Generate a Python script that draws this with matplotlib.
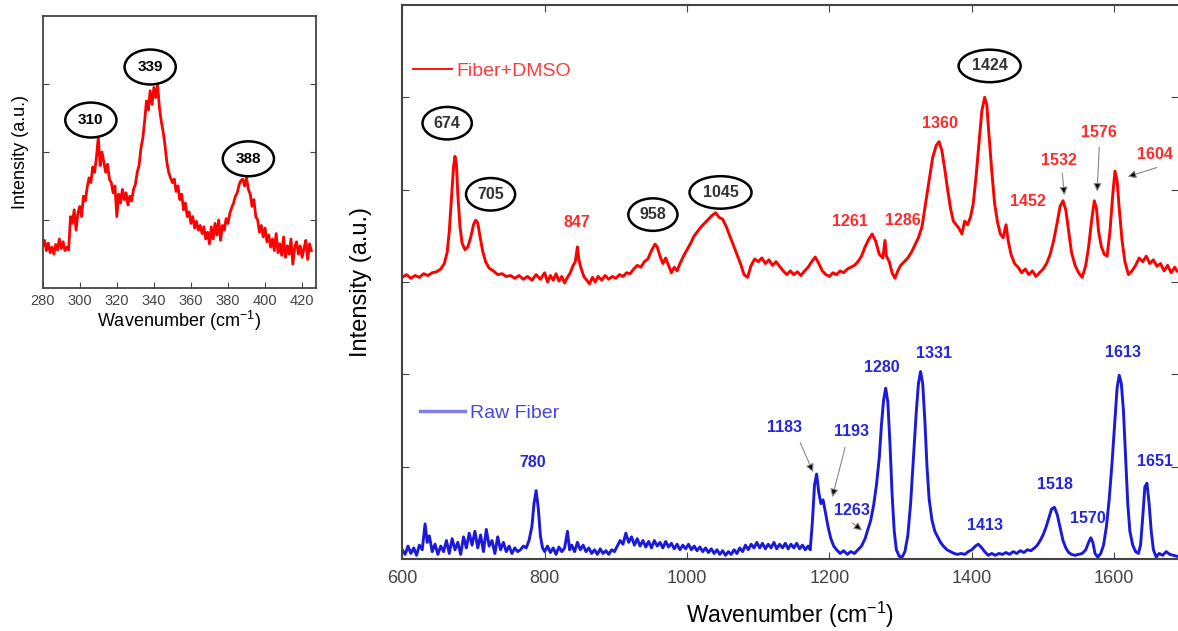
import numpy as np
import matplotlib
matplotlib.use("Agg")
import matplotlib.pyplot as plt
from matplotlib.lines import Line2D

plt.rcParams["font.family"] = ["Liberation Sans", "DejaVu Sans"]
plt.rcParams["mathtext.fontset"] = "custom"
plt.rcParams["mathtext.rm"] = "Liberation Sans"

# ---- inset: low wavenumber region of Fiber+DMSO (1 cm-1 sampling) ----
inset_start = 280
inset_int = [
    0.62, 0.70, 0.55, 0.66, 0.52, 0.60, 0.50, 0.64, 0.56, 0.72,
    0.58, 0.68, 0.55, 0.60, 0.56, 1.05, 0.95, 1.15, 0.85, 1.10,
    1.20, 1.05, 1.35, 1.28, 1.48, 1.62, 1.55, 1.78, 1.70, 1.92,
    2.22, 1.80, 2.00, 1.85, 1.70, 1.82, 1.60, 1.55, 1.40, 1.50,
    1.05, 1.38, 1.25, 1.45, 1.30, 1.40, 1.22, 1.35, 1.28, 1.45,
    1.52, 1.70, 1.80, 2.05, 2.20, 2.45, 2.75, 2.62, 2.90, 2.70,
    2.95, 2.80, 3.00, 2.65, 2.45, 2.30, 2.10, 1.85, 1.70, 1.62,
    1.55, 1.60, 1.42, 1.50, 1.30, 1.38, 1.15, 1.25, 1.05, 1.12,
    0.95, 1.05, 0.88, 0.98, 0.85, 0.92, 0.80, 0.90, 0.72, 0.82,
    0.65, 0.90, 0.72, 0.95, 0.78, 1.00, 0.70, 0.92, 0.85, 1.02,
    0.95, 1.10, 1.18, 1.25, 1.35, 1.40, 1.52, 1.58, 1.60, 1.50,
    1.62, 1.45, 1.38, 1.20, 1.30, 1.05, 1.00, 0.82, 0.92, 0.75,
    0.88, 0.68, 0.78, 0.60, 0.72, 0.55, 0.80, 0.52, 0.65, 0.48,
    0.75, 0.45, 0.62, 0.50, 0.72, 0.35, 0.60, 0.68, 0.50, 0.62,
    0.45, 0.58, 0.70, 0.42, 0.65, 0.55,
]
inset_wn = inset_start + np.arange(len(inset_int))
inset_labels = ["310", "339", "388"]
inset_label_x = [306, 338, 391]
inset_label_y = [2.47, 3.25, 1.90]

# ---- main panel: Fiber+DMSO ----
dmso_wn = [
    600, 606, 612, 618, 624, 630, 636, 642, 648, 654, 659, 663, 666, 669, 672,
    674, 676, 678, 681, 684, 688, 692, 696, 700, 703, 706, 709, 713, 717, 722,
    728, 734, 740, 746, 752, 758, 764, 770, 776, 782, 788, 794, 800, 804, 808,
    812, 816, 820, 824, 828, 832, 836, 840, 843, 846, 848, 851, 855, 859, 863,
    867, 871, 875, 880, 885, 890, 895, 900, 905, 910, 915, 920, 925, 930, 935,
    940, 945, 950, 955, 958, 962, 966, 970, 974, 978, 982, 986, 990, 995, 1000,
    1005, 1010, 1015, 1020, 1025, 1030, 1035, 1040, 1045, 1050, 1055, 1060,
    1065, 1070, 1075, 1080, 1085, 1090, 1095, 1100, 1105, 1110, 1115, 1120,
    1125, 1130, 1135, 1140, 1145, 1150, 1155, 1160, 1165, 1170, 1175, 1180,
    1185, 1190, 1195, 1200, 1205, 1210, 1215, 1220, 1225, 1230, 1235, 1240,
    1245, 1250, 1255, 1260, 1265, 1270, 1275, 1278, 1280, 1284, 1288, 1292,
    1296, 1300, 1305, 1310, 1315, 1320, 1325, 1330, 1335, 1340, 1345, 1350,
    1354, 1358, 1362, 1366, 1370, 1374, 1378, 1382, 1386, 1390, 1394, 1398,
    1402, 1406, 1410, 1414, 1418, 1421, 1424, 1428, 1432, 1436, 1440, 1444,
    1448, 1451, 1455, 1460, 1465, 1470, 1475, 1480, 1485, 1490, 1495, 1500,
    1505, 1510, 1515, 1520, 1524, 1528, 1532, 1536, 1540, 1545, 1550, 1555,
    1560, 1564, 1568, 1572, 1575, 1578, 1582, 1586, 1590, 1594, 1598, 1601,
    1604, 1607, 1611, 1615, 1620, 1625, 1630, 1635, 1640, 1645, 1650, 1655,
    1660, 1665, 1670, 1675, 1680, 1685, 1688,
]
dmso_int = [
    3.05, 3.08, 3.04, 3.07, 3.05, 3.09, 3.07, 3.10, 3.11, 3.14, 3.20, 3.32, 3.55, 3.90, 4.25,
    4.36, 4.28, 3.95, 3.60, 3.42, 3.35, 3.38, 3.48, 3.62, 3.67, 3.64, 3.50, 3.33, 3.22, 3.15,
    3.12, 3.08, 3.09, 3.06, 3.07, 3.04, 3.07, 3.03, 3.06, 3.02, 3.08, 3.03, 3.10, 3.00, 3.07,
    3.02, 3.09, 3.01, 3.06, 2.99, 3.05, 3.10, 3.18, 3.22, 3.38, 3.24, 3.15, 3.06, 3.02, 2.98,
    3.05, 3.00, 3.06, 3.02, 3.07, 3.03, 3.06, 3.04, 3.08, 3.06, 3.10, 3.09, 3.14, 3.18, 3.16,
    3.22, 3.25, 3.34, 3.41, 3.38, 3.28, 3.20, 3.26, 3.18, 3.10, 3.16, 3.12, 3.20, 3.28, 3.35,
    3.42, 3.50, 3.55, 3.60, 3.64, 3.68, 3.72, 3.75, 3.70, 3.68, 3.60, 3.50,
    3.40, 3.30, 3.20, 3.08, 3.05, 3.18, 3.25, 3.22, 3.26, 3.20, 3.24, 3.18,
    3.22, 3.17, 3.12, 3.08, 3.12, 3.08, 3.11, 3.07, 3.12, 3.16, 3.22, 3.27,
    3.20, 3.12, 3.08, 3.06, 3.10, 3.08, 3.12, 3.10, 3.14, 3.16, 3.18, 3.22,
    3.28, 3.38, 3.46, 3.52, 3.44, 3.30, 3.26, 3.45, 3.28, 3.22, 3.10, 3.04,
    3.12, 3.18, 3.22, 3.26, 3.32, 3.40, 3.48, 3.60, 3.85, 4.10, 4.35, 4.48,
    4.52, 4.42, 4.22, 4.00, 3.80, 3.66, 3.62, 3.58, 3.52, 3.66, 3.62, 3.70,
    3.85, 4.15, 4.50, 4.85, 5.00, 4.92, 4.60, 4.20, 3.85, 3.65, 3.52, 3.48,
    3.62, 3.45, 3.30, 3.20, 3.16, 3.10, 3.14, 3.08, 3.12, 3.06, 3.10, 3.14,
    3.20, 3.30, 3.45, 3.65, 3.82, 3.88, 3.78, 3.55, 3.32, 3.18, 3.10, 3.05,
    3.18, 3.38, 3.65, 3.88, 3.80, 3.55, 3.38, 3.30, 3.28, 3.55, 3.95, 4.20,
    4.10, 3.80, 3.45, 3.22, 3.08, 3.12, 3.18, 3.26, 3.22, 3.28, 3.20, 3.24,
    3.17, 3.20, 3.12, 3.18, 3.10, 3.16, 3.12,
]

# ---- main panel: Raw Fiber ----
raw_wn = [
    600, 604, 608, 612, 616, 620, 624, 628, 632, 635, 638, 642, 646, 650, 654,
    658, 662, 666, 670, 674, 678, 682, 686, 690, 694, 698, 702, 706, 710, 714,
    718, 722, 726, 730, 734, 738, 742, 746, 750, 754, 758, 762, 766, 770, 774,
    778, 782, 785, 788, 791, 794, 797, 800, 804, 808, 812, 816, 820, 824, 828,
    832, 835, 838, 842, 846, 850, 854, 858, 862, 866, 870, 874, 878, 882, 886,
    890, 894, 898, 902, 906, 910, 914, 918, 922, 926, 930, 934, 938, 942, 946,
    950, 954, 958, 962, 966, 970, 974, 978, 982, 986, 990, 994, 998, 1002,
    1006, 1010, 1014, 1018, 1022, 1026, 1030, 1034, 1038, 1042, 1046, 1050,
    1054, 1058, 1062, 1066, 1070, 1074, 1078, 1082, 1086, 1090, 1094, 1098,
    1102, 1106, 1110, 1114, 1118, 1122, 1126, 1130, 1134, 1138, 1142, 1146,
    1150, 1154, 1158, 1162, 1166, 1170, 1173, 1176, 1179, 1182, 1185, 1188,
    1191, 1194, 1198, 1202, 1206, 1210, 1215, 1220, 1225, 1230, 1235, 1240,
    1245, 1250, 1254, 1258, 1262, 1266, 1270, 1273, 1276, 1279, 1282, 1285,
    1288, 1291, 1294, 1298, 1302, 1306, 1310, 1314, 1318, 1322, 1325, 1328,
    1331, 1334, 1337, 1340, 1344, 1348, 1352, 1356, 1360, 1365, 1370, 1375,
    1380, 1385, 1390, 1395, 1400, 1405, 1409, 1413, 1418, 1423, 1428, 1433,
    1438, 1443, 1448, 1453, 1458, 1463, 1468, 1473, 1478, 1483, 1488, 1492,
    1496, 1500, 1504, 1508, 1512, 1516, 1520, 1524, 1528, 1532, 1536, 1540,
    1545, 1550, 1555, 1560, 1564, 1567, 1570, 1573, 1577, 1581, 1585, 1589,
    1593, 1597, 1601, 1604, 1607, 1610, 1613, 1616, 1619, 1622, 1626, 1630,
    1634, 1637, 1640, 1643, 1646, 1649, 1652, 1655, 1659, 1663, 1668, 1673,
    1678, 1683, 1688,
]
raw_int = [
    0.10, 0.05, 0.14, 0.06, 0.12, 0.04, 0.15, 0.10, 0.38, 0.18, 0.25, 0.08, 0.16, 0.05, 0.14,
    0.08, 0.20, 0.06, 0.22, 0.10, 0.18, 0.05, 0.24, 0.12, 0.28, 0.15, 0.30, 0.12, 0.26, 0.08,
    0.32, 0.14, 0.20, 0.06, 0.24, 0.10, 0.18, 0.08, 0.14, 0.06, 0.12, 0.08, 0.10, 0.14, 0.12,
    0.20, 0.35, 0.60, 0.74, 0.55, 0.25, 0.12, 0.08, 0.14, 0.07, 0.12, 0.05, 0.13, 0.08, 0.12,
    0.30, 0.10, 0.15, 0.08, 0.18, 0.10, 0.15, 0.08, 0.12, 0.06, 0.10, 0.05, 0.11, 0.06, 0.09,
    0.05, 0.10, 0.08, 0.14, 0.20, 0.16, 0.28, 0.18, 0.24, 0.15, 0.22, 0.14, 0.20, 0.13, 0.19,
    0.12, 0.20, 0.14, 0.18, 0.12, 0.19, 0.13, 0.17, 0.11, 0.16, 0.10, 0.15, 0.11, 0.16,
    0.10, 0.14, 0.09, 0.13, 0.08, 0.12, 0.07, 0.11, 0.06, 0.10, 0.05, 0.09,
    0.04, 0.08, 0.05, 0.10, 0.06, 0.12, 0.08, 0.15, 0.10, 0.16, 0.12, 0.18,
    0.12, 0.17, 0.11, 0.16, 0.12, 0.18, 0.11, 0.16, 0.12, 0.17, 0.11, 0.16,
    0.12, 0.17, 0.11, 0.15, 0.10, 0.14, 0.10, 0.40, 0.80, 0.92, 0.72, 0.60,
    0.64, 0.52, 0.35, 0.22, 0.14, 0.10, 0.06, 0.09, 0.05, 0.08, 0.06, 0.10,
    0.14, 0.22, 0.32, 0.42, 0.58, 0.80, 1.10, 1.45, 1.72, 1.85, 1.70, 1.25,
    0.70, 0.30, 0.10, 0.03, 0.02, 0.08, 0.25, 0.60, 1.10, 1.60, 1.90, 2.03,
    1.90, 1.50, 1.00, 0.65, 0.42, 0.30, 0.24, 0.18, 0.14, 0.10, 0.08, 0.06,
    0.05, 0.06, 0.05, 0.08, 0.10, 0.14, 0.16, 0.13, 0.08, 0.04, 0.06, 0.04,
    0.06, 0.05, 0.07, 0.05, 0.08, 0.06, 0.09, 0.07, 0.10, 0.09, 0.12, 0.15,
    0.20, 0.26, 0.34, 0.44, 0.54, 0.56, 0.48, 0.34, 0.20, 0.12, 0.07, 0.05,
    0.04, 0.05, 0.06, 0.10, 0.18, 0.23, 0.18, 0.06, 0.02, 0.06, 0.15, 0.35,
    0.65, 1.05, 1.50, 1.85, 1.99, 1.90, 1.60, 1.10, 0.60, 0.30, 0.15, 0.08,
    0.06, 0.15, 0.45, 0.78, 0.82, 0.60, 0.30, 0.10, 0.02, 0.06, 0.04, 0.08,
    0.05, 0.04, 0.03,
]

# peak labels (text, x, y)
dmso_circled = ["674", "705", "958", "1045", "1424"]
dmso_circled_x = [663, 724, 952, 1047, 1425]
dmso_circled_y = [4.72, 3.95, 3.73, 3.97, 5.34]

dmso_labels = ["847", "1261", "1286", "1360", "1452", "1532", "1576", "1604"]
dmso_labels_x = [845, 1229, 1303, 1355, 1479, 1522, 1578, 1657]
dmso_labels_y = [3.64, 3.65, 3.67, 4.72, 3.87, 4.32, 4.62, 4.38]

raw_labels = ["780", "1183", "1193", "1263", "1280", "1331", "1413", "1518",
              "1570", "1613", "1651"]
raw_labels_x = [783, 1137, 1231, 1232, 1274, 1347, 1419, 1517, 1563, 1613, 1657]
raw_labels_y = [1.04, 1.42, 1.38, 0.52, 2.07, 2.23, 0.36, 0.81, 0.44, 2.24, 1.06]

# arrows: (tail x, tail y, head x, head y)
arrows = [
    (1159, 1.26, 1177, 0.94),
    (1222, 1.21, 1204, 0.67),
    (1232, 0.39, 1246, 0.31),
    (1527, 4.18, 1530, 3.94),
    (1579, 4.46, 1576, 3.98),
    (1660, 4.24, 1619, 4.14),
]

red = "#ff0000"
blue = "#1a1ad8"
spine_col = "#444444"

fig = plt.figure(figsize=(11.78, 6.31), dpi=100)

# inset
ax1 = fig.add_axes([42.7 / 1178, 1 - 288 / 631, 273.3 / 1178, 272 / 631])
ax1.plot(inset_wn, inset_int, color=red, lw=2.0)
ax1.set_xlim(280, 427.5)
ax1.set_ylim(0, 4)
ax1.set_xticks([280, 300, 320, 340, 360, 380, 400, 420])
ax1.set_yticks([1, 2, 3])
ax1.set_yticklabels([])
ax1.tick_params(direction="in", length=4, top=True, right=True,
                labelsize=10.5, colors=spine_col, pad=4)
ax1.tick_params(axis="x", top=False)
for s in ax1.spines.values():
    s.set_color(spine_col)
    s.set_linewidth(1.3)
ax1.set_xlabel("Wavenumber (cm$^{-1}$)", fontsize=13, labelpad=1)
ax1.set_ylabel("Intensity (a.u.)", fontsize=13, labelpad=6)
for t, x, y in zip(inset_labels, inset_label_x, inset_label_y):
    ax1.text(x, y, t, ha="center", va="center", fontsize=11, fontweight="bold",
             bbox=dict(boxstyle="ellipse,pad=0.35", fc="white", ec="black", lw=1.8))

# main panel
ax = fig.add_axes([402.3 / 1178, 72 / 631, 776 / 1178, 554 / 631])
ax.plot(dmso_wn, dmso_int, color=red, lw=2.1)
ax.plot(raw_wn, raw_int, color=blue, lw=2.1)
ax.set_xlim(600, 1690)
ax.set_ylim(0, 6)
ax.set_xticks([600, 800, 1000, 1200, 1400, 1600])
ax.set_yticks([1, 2, 3, 4, 5])
ax.set_yticklabels([])
ax.tick_params(direction="in", length=5, top=True, right=True,
               labelsize=13, colors=spine_col, pad=8)
for s in ax.spines.values():
    s.set_color(spine_col)
    s.set_linewidth(1.5)
ax.spines["right"].set_visible(False)
ax.set_xlabel("Wavenumber (cm$^{-1}$)", fontsize=16.5, labelpad=9)
ax.set_ylabel("Intensity (a.u.)", fontsize=17, labelpad=14)

for t, x, y in zip(dmso_circled, dmso_circled_x, dmso_circled_y):
    ax.text(x, y, t, ha="center", va="center", fontsize=11.5, fontweight="bold",
            color="#333333",
            bbox=dict(boxstyle="ellipse,pad=0.25", fc="none", ec="black", lw=1.8))
for t, x, y in zip(dmso_labels, dmso_labels_x, dmso_labels_y):
    ax.text(x, y, t, ha="center", va="center", fontsize=11.5, fontweight="bold",
            color="#ff2a2a")
for t, x, y in zip(raw_labels, raw_labels_x, raw_labels_y):
    ax.text(x, y, t, ha="center", va="center", fontsize=11.5, fontweight="bold",
            color="#2626dd")
for x0, y0, x1, y1 in arrows:
    ax.annotate("", xy=(x1, y1), xytext=(x0, y0),
                arrowprops=dict(arrowstyle="-|>", fc="black", ec="#888888",
                                lw=0.8, mutation_scale=12, shrinkA=0, shrinkB=0))

leg1 = ax.legend(handles=[Line2D([], [], color=red, lw=1.3)], labels=["Fiber+DMSO"],
                 loc="center left", bbox_to_anchor=(0.0138, 0.881), frameon=False,
                 fontsize=14, handlelength=2.0, handletextpad=0.25,
                 borderpad=0, borderaxespad=0, labelcolor="#ff3a3a")
ax.add_artist(leg1)
ax.legend(handles=[Line2D([], [], color="#7f7fe8", lw=2.5)], labels=["Raw Fiber"],
          loc="center left", bbox_to_anchor=(0.0228, 0.2635), frameon=False,
          fontsize=14, handlelength=2.3, handletextpad=0.25,
          borderpad=0, borderaxespad=0, labelcolor="#4646e0")

fig.savefig("out.png", dpi=100)
